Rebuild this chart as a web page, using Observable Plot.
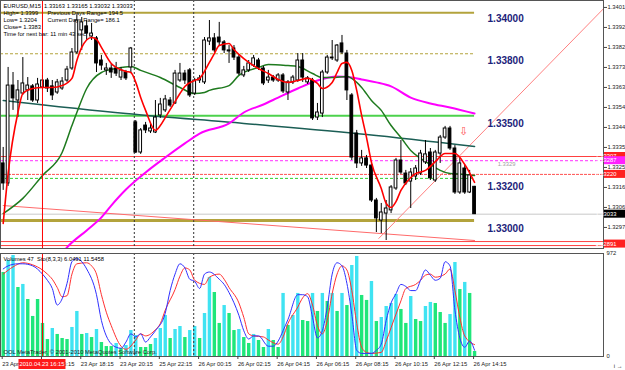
<!DOCTYPE html>
<html><head><meta charset="utf-8">
<script src="https://cdn.jsdelivr.net/npm/d3@7"></script>
<script src="https://cdn.jsdelivr.net/npm/@observablehq/plot@0.6"></script>
<style>
body{margin:0;background:#fff;}
#wrap{position:relative;width:625px;height:370px;overflow:hidden;background:#fff;}
#wrap svg{position:absolute;left:0;overflow:visible;}
</style></head><body><div id="wrap"></div>
<script>
// ---- price data (EURUSD M15), bar index 0 = 23 Apr 14:15 ----
const open  = [1.33274,1.33179,1.33644,1.33573,1.33606,1.33621,1.33640,1.33573,1.33635,1.33668,
1.33640,1.33611,1.33630,1.33668,1.33725,1.33801,1.33906,1.33925,1.33877,1.33868,
1.33763,1.33716,1.33725,1.33725,1.33682,1.33706,1.33730,1.33469,1.33326,1.33454,
1.33426,1.33421,1.33502,1.33526,1.33573,1.33559,1.33668,1.33701,1.33716,1.33606,
1.33668,1.33659,1.33853,1.33868,1.33872,1.33849,1.33806,1.33820,1.33777,1.33692,
1.33716,1.33739,1.33763,1.33725,1.33668,1.33682,1.33668,1.33692,1.33611,1.33659,
1.33668,1.33763,1.33659,1.33668,1.33492,1.33511,1.33706,1.33773,1.33763,1.33844,
1.33796,1.33597,1.33416,1.33274,1.33298,1.33264,1.33098,1.33003,1.33036,1.33051,
1.33155,1.33288,1.33226,1.33188,1.33212,1.33226,1.33279,1.33326,1.33193,1.33321,
1.33397,1.33440,1.33345,1.33136,1.33250,1.33136,1.33163];
const high  = [1.33350,1.33730,1.33706,1.33668,1.33777,1.33682,1.33649,1.33678,1.33692,1.33678,
1.33668,1.33673,1.33682,1.33735,1.33820,1.33977,1.33967,1.33953,1.33939,1.33877,
1.33787,1.33749,1.33744,1.33754,1.33730,1.33716,1.33825,1.33478,1.33440,1.33469,
1.33469,1.33573,1.33583,1.33597,1.33587,1.33716,1.33749,1.33716,1.33725,1.33678,
1.33692,1.33872,1.33953,1.33891,1.33944,1.33858,1.33834,1.33834,1.33787,1.33735,
1.33763,1.33787,1.33773,1.33735,1.33716,1.33692,1.33701,1.33701,1.33668,1.33692,
1.33796,1.33796,1.33687,1.33678,1.33559,1.33716,1.33787,1.33858,1.33839,1.33882,
1.33811,1.33606,1.33431,1.33336,1.33312,1.33274,1.33108,1.33084,1.33098,1.33169,
1.33298,1.33383,1.33241,1.33250,1.33264,1.33336,1.33383,1.33345,1.33336,1.33407,
1.33450,1.33450,1.33359,1.33298,1.33264,1.33241,1.33165];
const low   = [1.33146,1.33165,1.33526,1.33492,1.33597,1.33573,1.33564,1.33559,1.33621,1.33611,
1.33573,1.33602,1.33621,1.33659,1.33716,1.33792,1.33811,1.33858,1.33858,1.33706,
1.33716,1.33692,1.33678,1.33687,1.33668,1.33668,1.33701,1.33321,1.33317,1.33416,
1.33416,1.33416,1.33488,1.33516,1.33540,1.33554,1.33659,1.33649,1.33587,1.33597,
1.33654,1.33649,1.33834,1.33801,1.33834,1.33796,1.33749,1.33763,1.33692,1.33682,
1.33706,1.33730,1.33716,1.33644,1.33654,1.33659,1.33659,1.33606,1.33573,1.33649,
1.33659,1.33659,1.33649,1.33478,1.33478,1.33492,1.33697,1.33763,1.33754,1.33792,
1.33573,1.33288,1.33250,1.33260,1.33250,1.33089,1.32946,1.32941,1.32908,1.33036,
1.33146,1.33222,1.33169,1.33060,1.33193,1.33217,1.33269,1.33193,1.33184,1.33274,
1.33388,1.33336,1.33127,1.33127,1.33127,1.33131,1.33032];
const close = [1.33179,1.33644,1.33583,1.33621,1.33654,1.33644,1.33573,1.33649,1.33668,1.33630,
1.33597,1.33659,1.33663,1.33720,1.33801,1.33953,1.33944,1.33891,1.33891,1.33749,
1.33739,1.33725,1.33706,1.33701,1.33716,1.33678,1.33820,1.33326,1.33431,1.33431,
1.33440,1.33492,1.33554,1.33578,1.33549,1.33701,1.33701,1.33668,1.33597,1.33668,
1.33678,1.33858,1.33868,1.33811,1.33849,1.33811,1.33811,1.33777,1.33701,1.33716,
1.33749,1.33773,1.33730,1.33654,1.33682,1.33668,1.33692,1.33616,1.33659,1.33682,
1.33763,1.33682,1.33678,1.33488,1.33516,1.33706,1.33777,1.33777,1.33834,1.33801,
1.33621,1.33302,1.33274,1.33298,1.33264,1.33098,1.33013,1.33041,1.33060,1.33160,
1.33288,1.33231,1.33179,1.33231,1.33250,1.33321,1.33317,1.33203,1.33326,1.33397,
1.33440,1.33345,1.33136,1.33274,1.33136,1.33217,1.33033];

// moving averages [bar index, price]
const maFast = [[0,1.32989],[1,1.33226],[3,1.33516],[4,1.33606],[6,1.33630],[8,1.33635],[10,1.33635],[12,1.33644],[14,1.33678],[15,1.33763],[16,1.33825],[18,1.33872],[19,1.33863],[20,1.33825],[22,1.33749],[23,1.33730],[25,1.33711],[26,1.33706],[27,1.33659],[28,1.33587],[29,1.33526],[31,1.33431],[32,1.33454],[33,1.33492],[35,1.33568],[36,1.33606],[37,1.33640],[39,1.33668],[40,1.33678],[42,1.33754],[43,1.33796],[44,1.33834],[46,1.33844],[47,1.33815],[48,1.33792],[50,1.33754],[52,1.33725],[54,1.33701],[56,1.33673],[58,1.33659],[60,1.33668],[62,1.33678],[64,1.33654],[65,1.33630],[67,1.33659],[68,1.33706],[69,1.33749],[70,1.33754],[71,1.33716],[72,1.33621],[73,1.33502],[74,1.33397],[75,1.33279],[77,1.33155],[78,1.33084],[79,1.33065],[80,1.33093],[81,1.33146],[83,1.33207],[84,1.33226],[86,1.33241],[88,1.33283],[90,1.33321],[92,1.33321],[94,1.33269],[96,1.33184]];
const maMid = [[0,1.33036],[4,1.33108],[8,1.33217],[12,1.33326],[14,1.33454],[15,1.33516],[17,1.33630],[20,1.33706],[23,1.33725],[26,1.33735],[28,1.33716],[32,1.33682],[36,1.33635],[39,1.33606],[41,1.33611],[42,1.33621],[46,1.33644],[48,1.33692],[52,1.33730],[54,1.33744],[58,1.33739],[60,1.33735],[63,1.33701],[65,1.33682],[67,1.33682],[70,1.33687],[72,1.33659],[73,1.33635],[75,1.33573],[77,1.33526],[79,1.33454],[81,1.33397],[83,1.33336],[85,1.33298],[87,1.33269],[89,1.33241],[91,1.33226],[94,1.33222],[96,1.33217]];
const maSlow = [[12,1.32847],[13,1.32875],[17,1.32956],[20,1.33018],[22,1.33074],[25,1.33150],[29,1.33231],[33,1.33302],[37,1.33369],[40,1.33416],[46,1.33464],[49,1.33516],[53,1.33554],[56,1.33587],[60,1.33630],[64,1.33668],[68,1.33687],[71,1.33682],[73,1.33673],[76,1.33659],[79,1.33640],[83,1.33587],[87,1.33559],[91,1.33540],[96,1.33511]];
const ma200 = [[0,1.33573],[25,1.33511],[49,1.33464],[74,1.33412],[96,1.33355]];

// trend lines [bar index, price]
const trendDown = [[0,1.33074],[96,1.32908]];
const trendUp = [[76.5,1.32918],[122.3,1.34010]];

// horizontal levels
const levels = [
  {p:1.33990, color:"#b3a33c", w:2,   dash:null,  toLast:true},
  {p:1.33795, color:"#b3a33c", w:1,   dash:"3,2", toLast:true},
  {p:1.33500, color:"#4cd24c", w:2,   dash:null,  toLast:true},
  {p:1.33307, color:"#ff4040", w:1,   dash:null,  toLast:false},
  {p:1.33287, color:"#ff30ff", w:1,   dash:"3,2", toLast:false},
  {p:1.33222, color:"#ff5050", w:1,   dash:"3,1", toLast:false},
  {p:1.33203, color:"#30d030", w:1,   dash:"3,2", toLast:true},
  {p:1.33033, color:"#c8c8c8", w:1,   dash:null,  toLast:false},
  {p:1.33003, color:"#b3a33c", w:3,   dash:null,  toLast:true},
  {p:1.32903, color:"#ff4040", w:1,   dash:null,  toLast:false},
  {p:1.32884, color:"#ff4040", w:1,   dash:null,  toLast:false}
];
const levelLabels = [1.34000, 1.33800, 1.33500, 1.33200, 1.33000];
const priceTicks = [1.34015,1.33920,1.33825,1.33730,1.33635,1.33540,1.33445,1.33350,1.33255,1.33160,1.33065,1.32970];
const priceBoxes = [
  {p:1.33307, t:"1.33307", bg:"#ff2020", fg:"#fff"},
  {p:1.33287, t:"1.33287", bg:"#ff20ff", fg:"#fff"},
  {p:1.33222, t:"1.33220", bg:"#ff2020", fg:"#fff"},
  {p:1.33033, t:"1.33033", bg:"#000000", fg:"#fff"},
  {p:1.32891, t:"1.32891", bg:"#ff2020", fg:"#fff"}
];

// volumes and stochastic
const volumes = [793,906,953,651,680,538,378,538,312,160, 264,208,170,160,274,425,208,217,179,255,
 132,94,94,123,76,104,245,198,85,85, 113,170,264,387,170,255,283,179,245,283,
 170,406,746,604,312,481,406,245,255,179, 123,208,151,85,255,151,85,595,293,387,
 595,340,330,595,425,595,519,595,425,595, 481,859,944,576,529,708,330,368,472,500,
 585,444,312,566,349,330,472,510,500,415, 312,396,887,632,699,595,47];
const volColors = "gccgcggggg"+"cgggccgcgc"+"gggcgcccgg"+"gcccgccgcc"+"gccggcggcg"+"gcggcggcgc"+"cggcgcgcgc"+"gccggcgccc"+"cggcggccgg"+"gccgcgg";
const stochMain = [[0,85],[1,88],[3,90],[4,90],[6,88],[8,80],[9,74],[10,66],[11,50],[12,56],[13,71],[14,92],[15,95],[16,92],[17,85],[19,60],[20,35],[21,20],[23,9],[24,8],[25,14],[26,22],[27,19],[28,22],[29,14],[30,19],[31,25],[33,42],[34,64],[35,80],[36,90],[37,86],[38,75],[39,73],[40,66],[41,80],[42,82],[44,75],[45,70],[46,62],[48,40],[49,25],[50,17],[51,20],[52,20],[54,10],[55,10],[56,15],[57,25],[58,36],[60,60],[61,60],[62,58],[63,38],[64,18],[65,25],[66,48],[67,80],[68,91],[69,88],[70,71],[71,41],[72,6],[73,3],[74,3],[75,3],[76,6],[77,12],[78,35],[79,52],[80,61],[81,70],[82,68],[83,64],[84,64],[85,74],[86,84],[87,79],[88,74],[89,76],[90,92],[91,88],[92,45],[93,18],[94,9],[95,15],[96,6.0491]];
const stochSignal = [[0,80],[2,87],[4,91],[6,89],[8,84],[9,80],[10,75],[11,67],[12,58],[13,59],[14,80],[15,90],[17,91],[18,88],[19,80],[20,60],[21,43],[22,30],[24,10],[25,7],[27,16],[28,22],[29,20],[31,26],[32,32],[33,45],[35,65],[36,78],[37,86],[38,84],[39,74],[41,70],[42,77],[44,80],[45,75],[46,67],[48,52],[49,38],[50,22],[51,20],[53,19],[54,16],[56,12],[57,19],[58,32],[60,48],[61,57],[62,61],[63,50],[64,30],[65,22],[66,35],[67,61],[68,80],[69,88],[70,84],[71,64],[72,32],[73,9],[74,4],[75,3],[77,4],[78,15],[79,28],[81,54],[82,66],[84,70],[85,74],[86,79],[87,80],[88,77],[90,80],[91,85],[92,64],[93,38],[94,20],[96,11.5458]];

// time axis
const timeTicks = [0,8,16,24,32,40,48,56,64,72,80,88,96];
const timeLabels = ["23 Apr 2010","23 Apr 16:15","23 Apr 18:15","23 Apr 20:15","25 Apr 22:15","26 Apr 00:15","26 Apr 02:15","26 Apr 04:15","26 Apr 06:15","26 Apr 08:15","26 Apr 10:15","26 Apr 12:15","26 Apr 14:15"];
const separators = [26.7, 38.8];
const crossBar = 8;
const crossLabel = "2010.04.23 16:15";

const headerLine = "EURUSD,M15  1.33163 1.33165 1.33032 1.33033";
const infoLeft = ["High= 1.3399","Low= 1.3204","Close= 1.3383","Time for next bar: 11 min 43 sec"];
const infoRight = ["Previous Days Range= 194.5","Current Days Range= 186.1"];
const lowerTitle = "Volumes 47  Sto(8,3,3) 6.0491 11.5458";
const copyright = "OOL MetaTrader, \u00a9 2001-2010 MetaQuotes Software Corp.";

// ---- build ----
const FONT = "'Liberation Sans', Arial, sans-serif";
const FS = 5.8;
const candles = close.map((c,i)=>({i, o:open[i], h:high[i], l:low[i], c}));
const last = candles.length-1;
const xDom = [-0.55, 122.26];
const toObj = a => a.map(([i,v])=>({i,v}));

const main = Plot.plot({
  width:625, height:249, marginTop:0, marginBottom:1, marginLeft:0, marginRight:22,
  x:{domain:xDom, axis:null},
  y:{domain:[1.32870,1.34048], axis:null},
  style:{background:"transparent", fontFamily:FONT, overflow:"visible"},
  marks:[
    ...levels.map(L => Plot.ruleY([L.p], {x1: L.toLast? xDom[0] : undefined, x2: L.toLast? last : undefined, stroke:L.color, strokeWidth:L.w, strokeDasharray:L.dash||undefined})),
    Plot.ruleX(separators, {stroke:"#333", strokeDasharray:"2,2"}),
    Plot.line(toObj(trendDown), {x:"i", y:"v", stroke:"#ff6a6a", strokeWidth:1}),
    Plot.line(toObj(trendUp), {x:"i", y:"v", stroke:"#ff8080", strokeWidth:1, clip:true}),
    Plot.line(toObj(ma200), {x:"i", y:"v", stroke:"#1b5e55", strokeWidth:1.5, curve:"monotone-x"}),
    Plot.line(toObj(maSlow), {x:"i", y:"v", stroke:"#ff00ff", strokeWidth:2, curve:"monotone-x", clip:true}),
    Plot.line(toObj(maMid), {x:"i", y:"v", stroke:"#1e7a1e", strokeWidth:1.5, curve:"monotone-x"}),
    Plot.ruleX(candles, {x:"i", y1:"l", y2:"h", stroke:"#000", strokeWidth:1}),
    Plot.rect(candles, {x1:d=>d.i-0.28, x2:d=>d.i+0.28, y1:"o", y2:"c", fill:d=>d.c<d.o?"#000":"#fff", stroke:"#000", strokeWidth:1}),
    Plot.line(toObj(maFast), {x:"i", y:"v", stroke:"#ff0000", strokeWidth:1.6, curve:"monotone-x"}),
    Plot.ruleX([crossBar], {stroke:"#ff0000", strokeWidth:1}),
    Plot.text(levelLabels, {x:last, y:d=>d, text:d=>d.toFixed(5), dx:13, dy:8, textAnchor:"start", fill:"#1c237a", fontWeight:"bold", fontSize:10}),
    Plot.text(["\u21e9"], {x:93.7, y:1.33426, fill:"#ff5050", fontSize:11}),
    Plot.text(["1.3329"], {x:100.7, y:1.33287, dy:3, fill:"#a0a0a0", fontSize:FS, textAnchor:"start"}),
    Plot.frame({stroke:"#555"}),
    Plot.axisY(priceTicks, {anchor:"right", tickSize:3, tickPadding:1, fontSize:FS, tickFormat:d=>d.toFixed(5), fill:"#222", stroke:"#444"}),
    Plot.text([headerLine], {frameAnchor:"top-left", dx:3, dy:3, fontSize:FS, textAnchor:"start", fill:"#000"}),
    Plot.text([infoLeft.join("\n")], {frameAnchor:"top-left", dx:3, dy:10, fontSize:FS, lineHeight:1.2, textAnchor:"start", fill:"#000"}),
    Plot.text([infoRight.join("\n")], {frameAnchor:"top-left", dx:47, dy:10, fontSize:FS, lineHeight:1.2, textAnchor:"start", fill:"#000"})
  ]
});
main.style.top = "0px";

const vols = volumes.map((v,i)=>({i, v, col: volColors[i]==="c" ? "#3fe3f2" : "#1fe67a"}));
const lower = Plot.plot({
  width:625, height:121, marginTop:4, marginBottom:14, marginLeft:0, marginRight:22,
  x:{domain:xDom, axis:null},
  y:{domain:[0,972], axis:null},
  style:{background:"transparent", fontFamily:FONT, overflow:"visible"},
  marks:[
    Plot.ruleX(vols, {x:"i", y1:0, y2:"v", stroke:"col", strokeWidth:3.4}),
    Plot.ruleX(separators, {stroke:"#333", strokeDasharray:"2,2"}),
    Plot.line(toObj(stochSignal), {x:"i", y:d=>d.v*9.72, stroke:"#ff3030", strokeWidth:1, curve:"monotone-x"}),
    Plot.line(toObj(stochMain), {x:"i", y:d=>d.v*9.72, stroke:"#3030ff", strokeWidth:1, curve:"monotone-x"}),
    Plot.ruleX([crossBar], {stroke:"#ff0000", strokeWidth:1}),
    Plot.frame({stroke:"#555"}),
    Plot.text([972, 0], {x:xDom[1], y:d=>d, text:d=>String(d), dx:3, textAnchor:"start", fontSize:FS, fill:"#222"}),
    Plot.axisX(timeTicks, {anchor:"bottom", tickSize:3, tickPadding:2, fontSize:FS, textAnchor:"start", dx:-1, tickFormat:(d)=>timeLabels[timeTicks.indexOf(d)], fill:"#222", stroke:"#444"}),
    Plot.text([lowerTitle], {frameAnchor:"top-left", dx:3, dy:3, fontSize:FS, textAnchor:"start", fill:"#000"}),
    Plot.text([copyright], {frameAnchor:"bottom-left", dx:3, dy:-3, fontSize:FS, textAnchor:"start", fill:"#222"})
  ]
});
lower.style.top = "249px";

const wrap = document.getElementById("wrap");
wrap.appendChild(main);
wrap.appendChild(lower);

// right-axis price boxes, placed through the plot's scales
const sy = main.scale("y"), sx = main.scale("x");
const xr = sx.apply(xDom[1]);
const gm = d3.select(main).append("g").attr("font-family", FONT).attr("font-size", FS);
priceBoxes.forEach(b => {
  const y = sy.apply(b.p);
  gm.append("rect").attr("x", xr+1).attr("y", y-4).attr("width", 24).attr("height", 8).attr("fill", b.bg);
  gm.append("text").attr("x", xr+3).attr("y", y+2.1).attr("fill", b.fg).text(b.t);
});
// crosshair time label
const lx = lower.scale("x").apply(crossBar);
const gl = d3.select(lower).append("g").attr("font-family", FONT).attr("font-size", FS);
gl.append("rect").attr("x", lx-23.5).attr("y", 110).attr("width", 47).attr("height", 10).attr("fill", "#ff1a1a");
gl.append("text").attr("x", lx).attr("y", 117).attr("text-anchor","middle").attr("fill", "#fff").text(crossLabel);
</script></body></html>
